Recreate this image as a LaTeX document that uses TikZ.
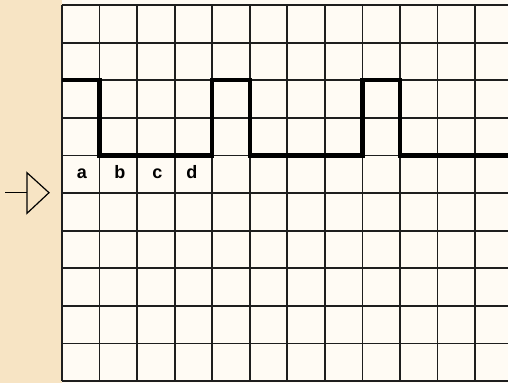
\documentclass[tikz,border=0pt]{standalone}
\usepackage{fontspec}
\setmainfont{Liberation Sans}
\usepackage{tikz}
\usetikzlibrary{calc}
\definecolor{parchment}{HTML}{F7E4C4}
\definecolor{cream}{HTML}{FFFBF4}
\definecolor{gridgray}{HTML}{1E1E1E}
\newcommand{\gx}{37.55}
\newcommand{\gy}{37.6}

\begin{document}
\begin{tikzpicture}[x=1pt,y=-1pt,
  gridline/.style={line width=1.8pt,draw=gridgray},
  wave/.style={line width=4.4pt,draw=black,line join=miter},
  cellab/.style={font=\fontsize{18}{18}\selectfont\bfseries,inner sep=0pt,anchor=base},
  feed/.style={line width=1.2pt,draw=black}]

\fill[parchment] (0,0) rectangle (508,383);
\fill[cream] (62,0) rectangle (508,383);
\useasboundingbox (0,0) rectangle (508,383);

% grid
\foreach \i in {0,...,11}
  \draw[gridline] ({62+\i*\gx},5) -- ({62+\i*\gx},381);
\foreach \j in {0,...,10}
  \draw[gridline] (62,{5+\j*\gy}) -- (508,{5+\j*\gy});

% pulse train
\draw[wave] (62,{5+2*\gy}) -- ({62+1*\gx},{5+2*\gy}) -- ({62+1*\gx},{5+4*\gy})
  -- ({62+4*\gx},{5+4*\gy}) -- ({62+4*\gx},{5+2*\gy}) -- ({62+5*\gx},{5+2*\gy})
  -- ({62+5*\gx},{5+4*\gy}) -- ({62+8*\gx},{5+4*\gy}) -- ({62+8*\gx},{5+2*\gy})
  -- ({62+9*\gx},{5+2*\gy}) -- ({62+9*\gx},{5+4*\gy}) -- (508,{5+4*\gy});

\node[cellab] (la) at ({62+0.5*\gx+1},178.7) {a};
\node[cellab] (lb) at ({62+1.5*\gx+1.5},178.7) {b};
\node[cellab] (lc) at ({62+2.5*\gx+1.5},178.7) {c};
\node[cellab] (ld) at ({62+3.5*\gx-1.5},178.7) {d};

% input marker
\coordinate (lead) at (5,192.7);
\coordinate (tail) at (27,192.7);
\draw[feed] (lead) -- (tail);
\draw[feed,line join=miter] (27,172.7) -- (49,192.7) -- (27,213.3) -- cycle;
\end{tikzpicture}
\end{document}
